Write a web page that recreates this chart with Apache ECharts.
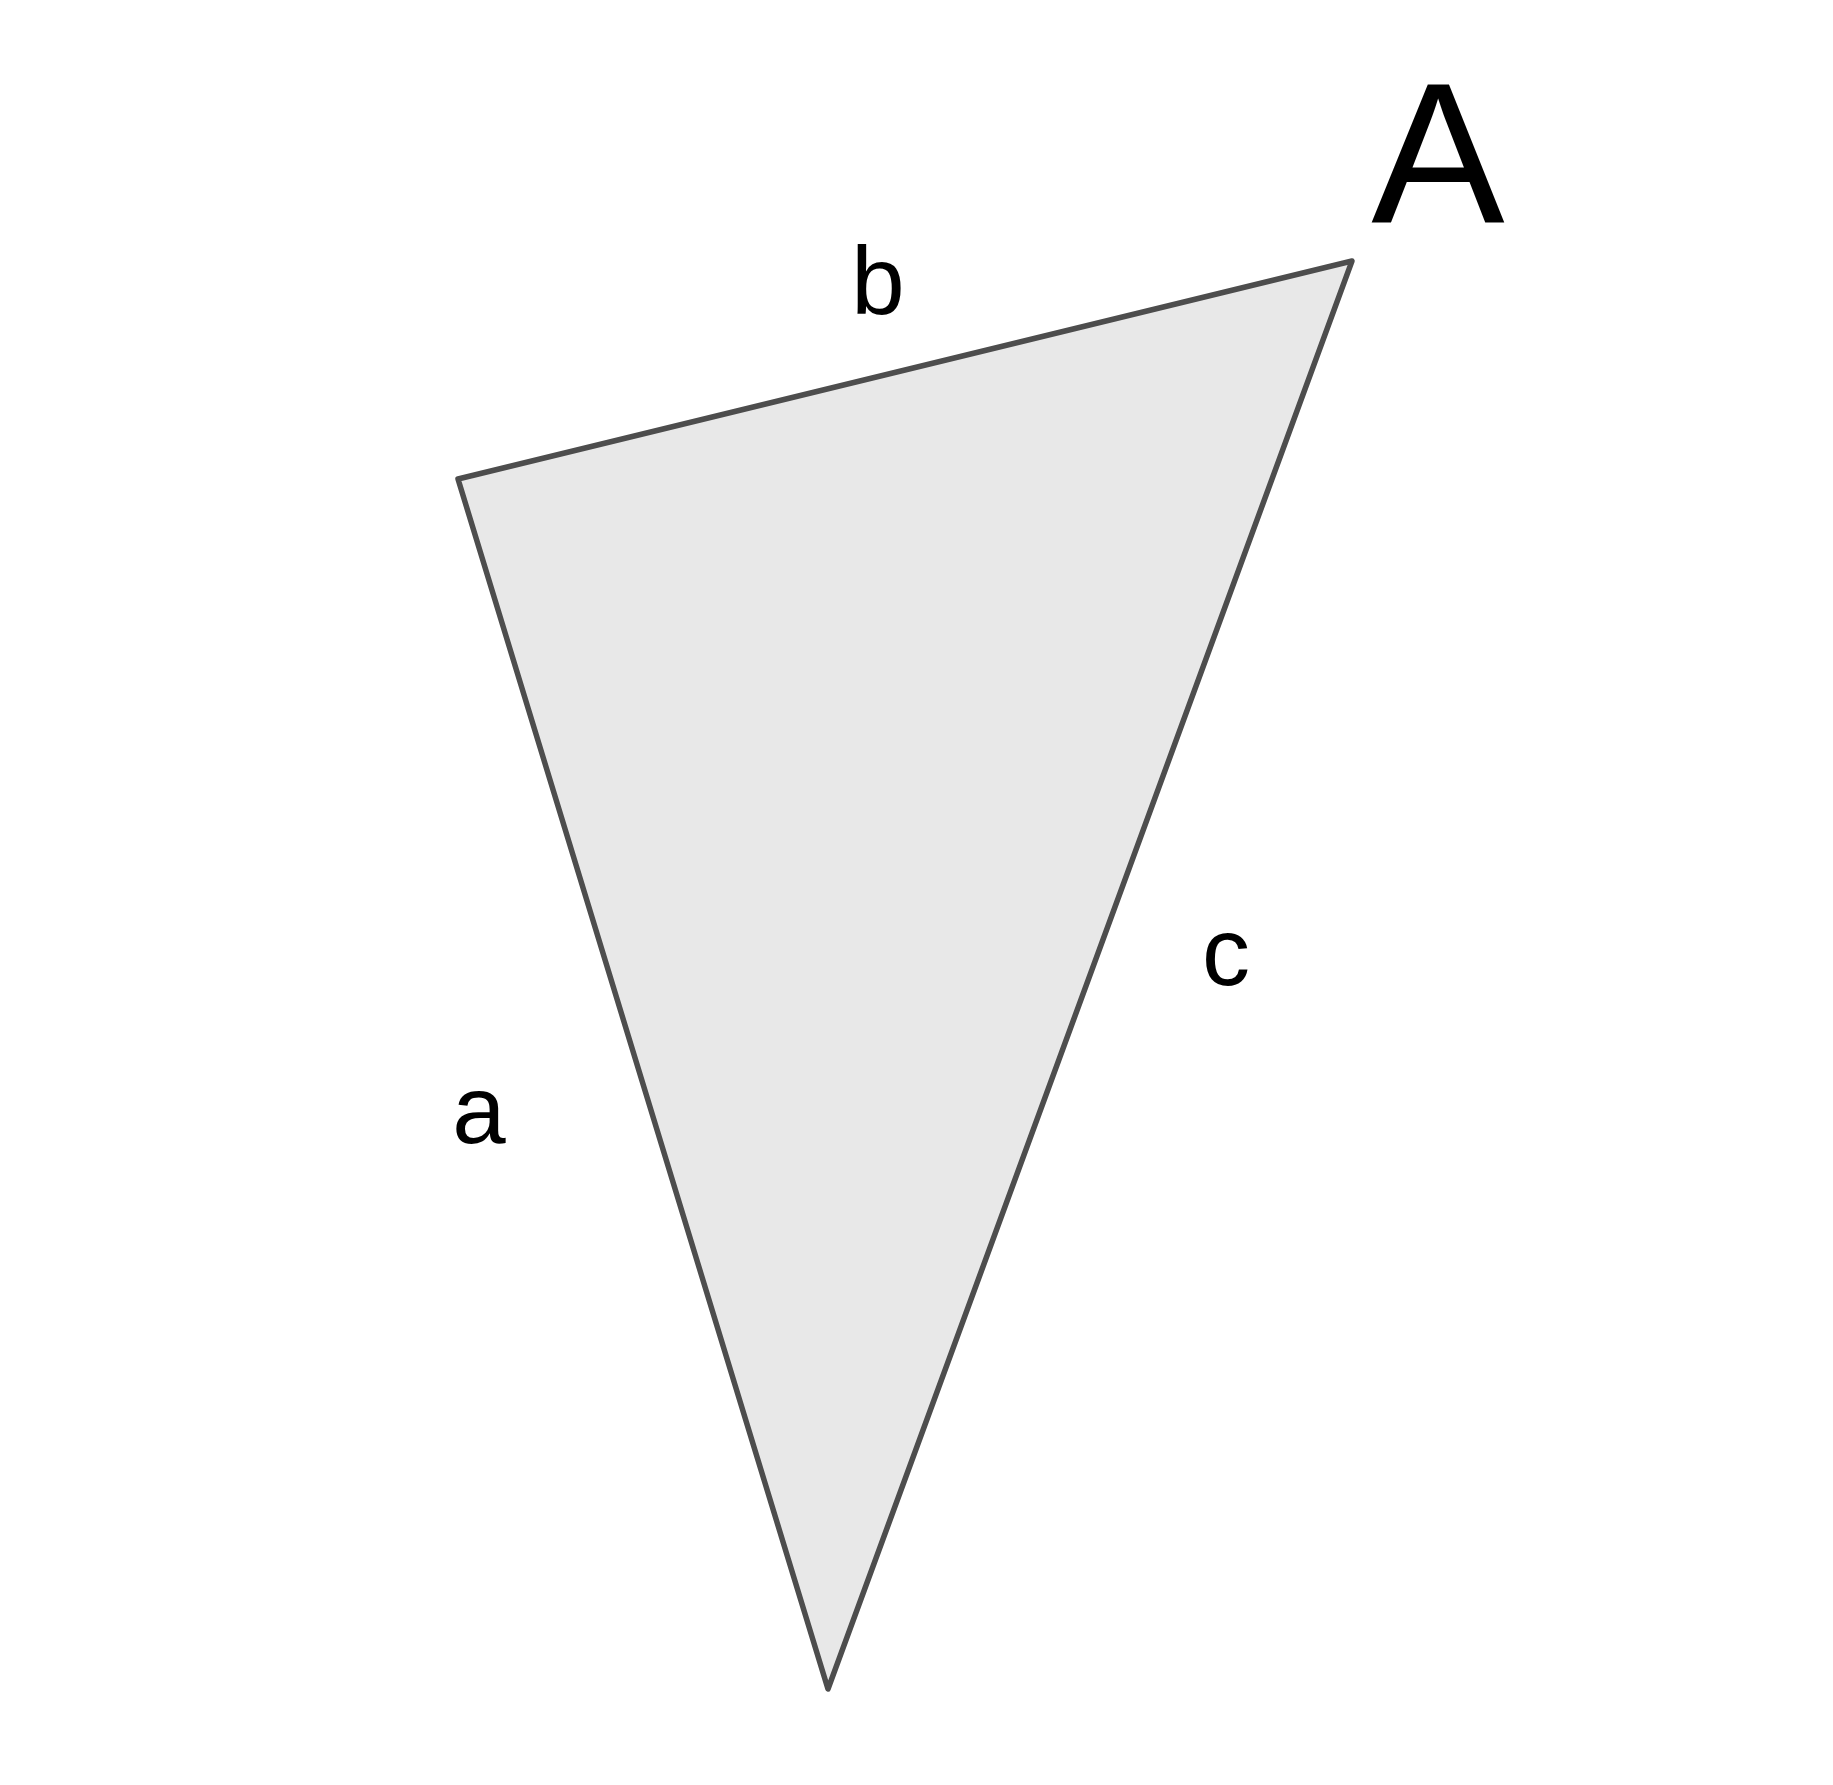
<!DOCTYPE html>
<html><head><meta charset="utf-8">
<script src="https://cdn.jsdelivr.net/npm/echarts@6/dist/echarts.min.js"></script>
<style>html,body{margin:0;padding:0;background:#fff}#c{width:1833px;height:1785px}</style>
</head><body><div id="c"></div>
<script>
var vertexX = [458, 1352, 828];
var vertexY = [479, 261, 1689];
var labelText = ['A', 'b', 'c', 'a'];
var labelX = [1438, 878, 1226, 479];
var labelY = [67, 240, 911, 1069];
var labelSize = [200, 96, 96, 96];

var chart = echarts.init(document.getElementById('c'));
var poly = vertexX.map(function (x, i) { return [x, vertexY[i]]; });
var labels = labelText.map(function (t, i) { return [labelX[i], labelY[i], t, labelSize[i]]; });
chart.setOption({
  animation: false,
  grid: {left: 0, right: 0, top: 0, bottom: 0},
  xAxis: {type: 'value', min: 0, max: 1833, show: false},
  yAxis: {type: 'value', min: 0, max: 1785, inverse: true, show: false},
  series: [{
    type: 'custom',
    data: [0],
    renderItem: function (params, api) {
      var pts = poly.map(function (p) { return api.coord(p); });
      return {type: 'polygon', shape: {points: pts},
        style: {fill: '#e8e8e8', stroke: '#4d4d4d', lineWidth: 5.5, lineJoin: 'round'}};
    }
  }, {
    type: 'custom',
    data: labels,
    renderItem: function (params, api) {
      var p = api.coord([api.value(0), api.value(1)]);
      var d = labels[params.dataIndex];
      return {type: 'text', x: p[0], y: p[1],
        style: {text: d[2], fill: '#000', font: d[3] + 'px "Liberation Sans", Arial, sans-serif',
          align: 'center', verticalAlign: 'alphabetic'}};
    }
  }]
});
</script></body></html>
